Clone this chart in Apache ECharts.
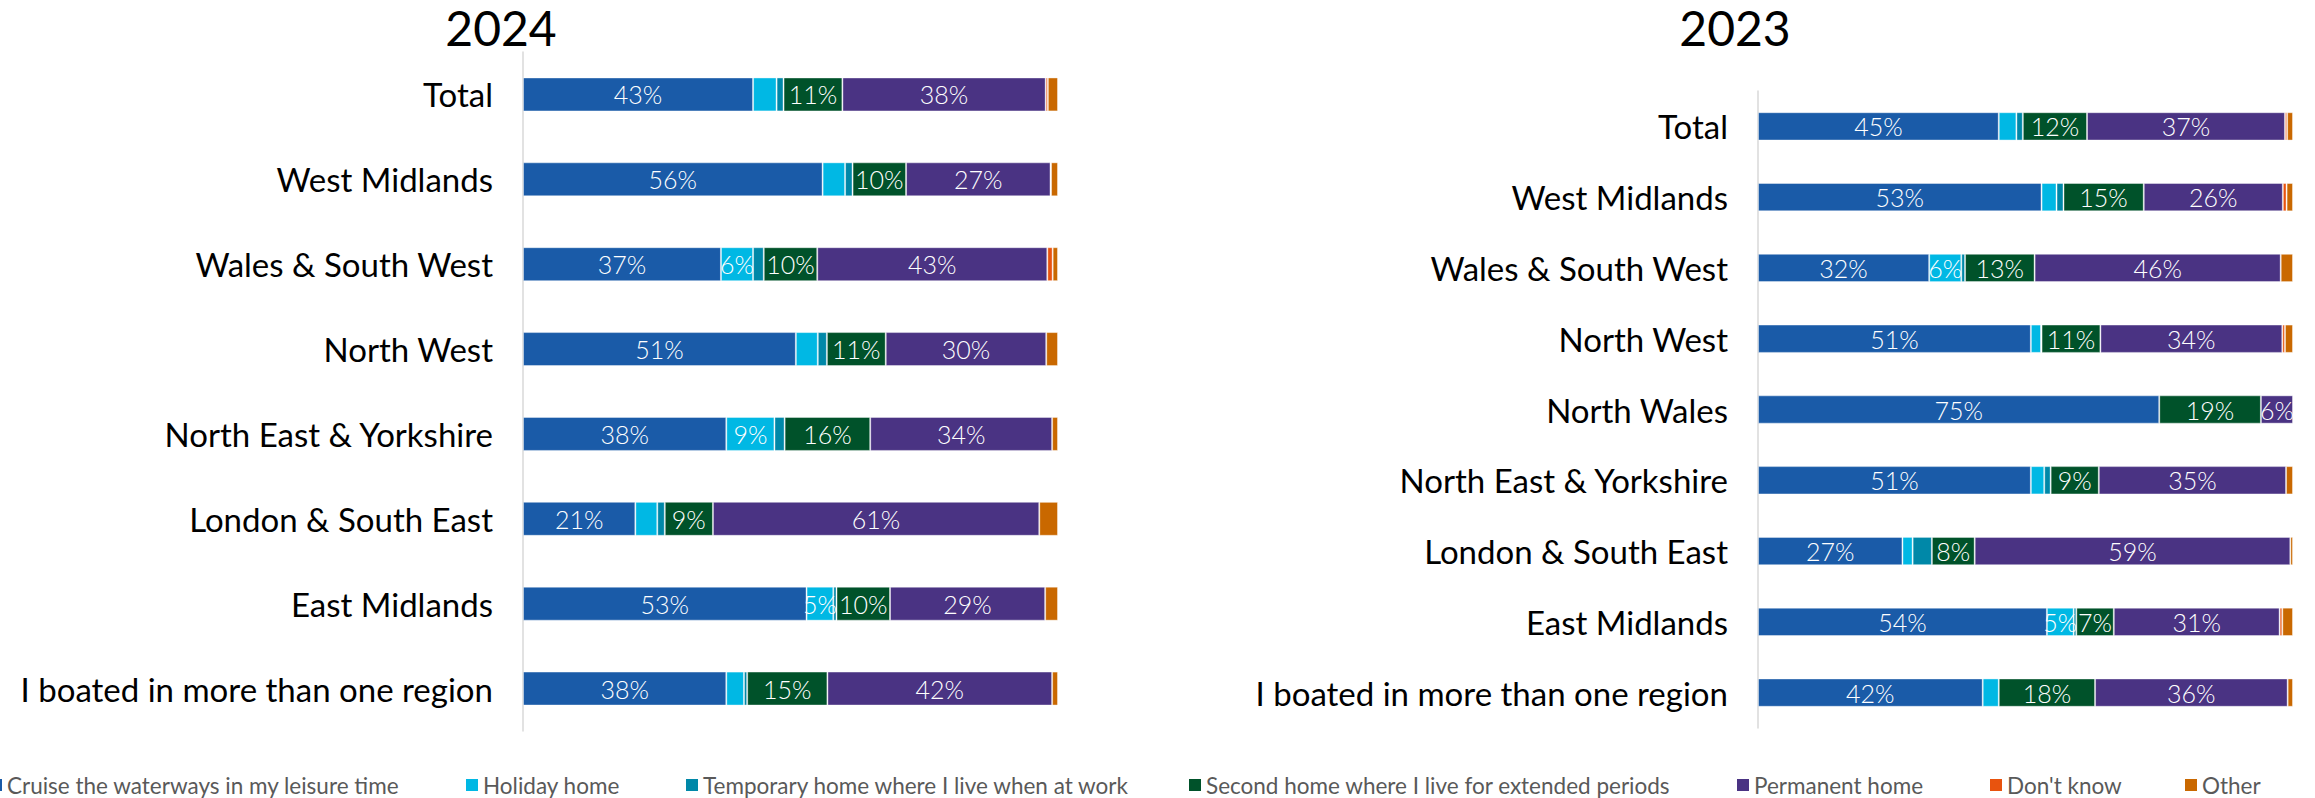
<!DOCTYPE html>
<html>
<head>
<meta charset="utf-8">
<script src="https://cdn.jsdelivr.net/npm/echarts@6/dist/echarts.min.js"></script>
<style>
  html, body { margin: 0; padding: 0; background: #fff; }
  #chart { width: 2315px; height: 798px; }
</style>
</head>
<body>
<div id="chart"></div>
<script>
// Regions (top to bottom)
const categories2024 = ['Total', 'West Midlands', 'Wales & South West', 'North West',
  'North East & Yorkshire', 'London & South East', 'East Midlands', 'I boated in more than one region'];
const categories2023 = ['Total', 'West Midlands', 'Wales & South West', 'North West', 'North Wales',
  'North East & Yorkshire', 'London & South East', 'East Midlands', 'I boated in more than one region'];

// Share of respondents (%) by how they use their boat — 2024
const cruise2024    = [43, 56, 37, 51, 38, 21, 53, 38];
const holiday2024   = [4.4, 4.2, 6, 4.1, 9, 4.1, 5, 3.3];
const temporary2024 = [1.3, 1.4, 2.0, 1.7, 1.9, 1.4, 0.6, 0.6];
const second2024    = [11, 10, 10, 11, 16, 9, 10, 15];
const permanent2024 = [38, 27, 43, 30, 34, 61, 29, 42];
const dontKnow2024  = [0.4, 0.1, 1.0, 0, 0, 0, 0, 0];
const other2024     = [1.9, 1.3, 1.0, 2.2, 1.1, 3.5, 2.4, 1.1];

// Share of respondents (%) by how they use their boat — 2023
const cruise2023    = [45, 53, 32, 51, 75, 51, 27, 54, 42];
const holiday2023   = [3.3, 2.8, 6, 1.9, 0, 2.5, 1.9, 5, 3.0];
const temporary2023 = [1.2, 1.3, 0.7, 0.1, 0, 1.2, 3.6, 0.5, 0];
const second2023    = [12, 15, 13, 11, 19, 9, 8, 7, 18];
const permanent2023 = [37, 26, 46, 34, 6, 35, 59, 31, 36];
const dontKnow2023  = [0.4, 0.7, 0, 0.5, 0, 0, 0, 0.5, 0];
const other2023     = [1.1, 1.2, 2.3, 1.5, 0, 1.3, 0.5, 2.0, 1.0];

const seriesNames = ['Cruise the waterways in my leisure time', 'Holiday home',
  'Temporary home where I live when at work', 'Second home where I live for extended periods',
  'Permanent home', "Don't know", 'Other'];
const seriesColors = ['#1A5BA8', '#00B8E4', '#0088A8', '#00522A', '#4A3383', '#E8530E', '#C96800'];

const data2024 = [cruise2024, holiday2024, temporary2024, second2024, permanent2024, dontKnow2024, other2024];
const data2023 = [cruise2023, holiday2023, temporary2023, second2023, permanent2023, dontKnow2023, other2023];

const FONT = 'Lato, "Noto Sans", sans-serif';

function makeSeries(dataSets, axisIndex, stackId) {
  return dataSets.map((vals, i) => ({
    name: seriesNames[i],
    type: 'bar',
    stack: stackId,
    xAxisIndex: axisIndex,
    yAxisIndex: axisIndex,
    barCategoryGap: '60%',
    data: vals.map(v => (v === 0 ? null : v)),
    itemStyle: { color: seriesColors[i], borderColor: 'rgba(255,255,255,0.4)', borderWidth: 1 },
    label: {
      show: true,
      position: 'inside',
      color: '#ffffff',
      fontFamily: FONT,
      fontWeight: 300,
      fontSize: 25,
      formatter: p => (p.value >= 5 ? p.value + '%' : '')
    },
    emphasis: { disabled: true }
  }));
}

function categoryAxis(cats, gridIndex) {
  return {
    type: 'category',
    gridIndex: gridIndex,
    data: cats,
    inverse: true,
    axisLine: { show: true, lineStyle: { color: '#D9D9D9', width: 1.5 } },
    axisTick: { show: false },
    axisLabel: { margin: 30, fontSize: 33, color: '#000000', fontFamily: FONT },
    splitLine: { show: false }
  };
}

function valueAxis(gridIndex) {
  return { type: 'value', gridIndex: gridIndex, min: 0, max: 100, show: false, splitLine: { show: false } };
}

// Legend entries positioned along the bottom row
const legendLefts = [-10, 466, 686, 1189, 1737, 1990, 2185];
const legends = seriesNames.map((name, i) => ({
  data: [name],
  left: legendLefts[i],
  top: 773,
  padding: 0,
  icon: 'rect',
  itemWidth: 12,
  itemHeight: 12,
  selectedMode: false,
  itemStyle: { borderWidth: 0 },
  textStyle: { fontSize: 22.5, color: '#595959', fontFamily: FONT, lineHeight: 24 }
}));

const option = {
  animation: false,
  backgroundColor: '#ffffff',
  title: [
    { text: '2024', left: 501, top: 3, padding: 0, textAlign: 'center',
      textStyle: { fontSize: 48, fontWeight: 'normal', color: '#000000', fontFamily: FONT } },
    { text: '2023', left: 1735, top: 3, padding: 0, textAlign: 'center',
      textStyle: { fontSize: 48, fontWeight: 'normal', color: '#000000', fontFamily: FONT } }
  ],
  legend: legends,
  grid: [
    { left: 523, top: 52, width: 535, height: 679, containLabel: false, outerBoundsMode: 'none' },
    { left: 1758, top: 91, width: 535, height: 637, containLabel: false, outerBoundsMode: 'none' }
  ],
  xAxis: [valueAxis(0), valueAxis(1)],
  yAxis: [categoryAxis(categories2024, 0), categoryAxis(categories2023, 1)],
  series: [...makeSeries(data2024, 0, 'y2024'), ...makeSeries(data2023, 1, 'y2023')]
};

const chart = echarts.init(document.getElementById('chart'), null, { renderer: 'svg' });
chart.setOption(option);
</script>
</body>
</html>
